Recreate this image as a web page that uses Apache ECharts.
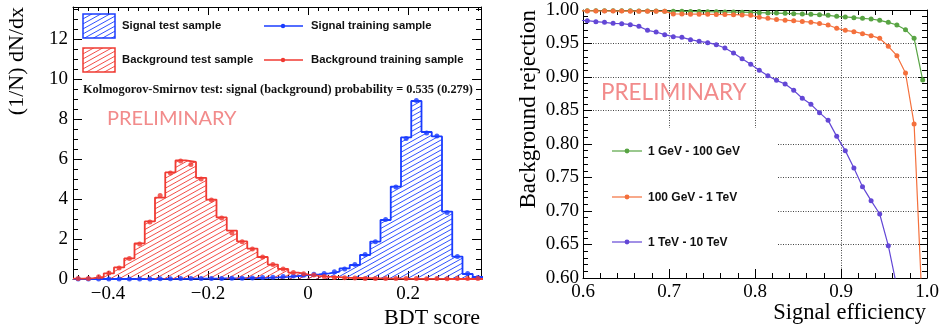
<!DOCTYPE html>
<html>
<head>
<meta charset="utf-8">
<script src="https://cdn.jsdelivr.net/npm/echarts@6/dist/echarts.min.js"></script>
<style>
  html, body { margin: 0; padding: 0; background: #fff; }
  #chart { width: 943px; height: 329px; }
</style>
</head>
<body>
<div id="chart"></div>
<script>
// ---- left panel: BDT score histograms (40 bins) ----
const xMin = -0.47, xMax = 0.346, binW = 0.0205;

const bgTest = [0.02, 0.04, 0.10, 0.28, 0.58, 1.03, 1.78, 2.88, 4.07, 5.33,
                5.93, 5.85, 5.06, 3.97, 3.08, 2.42, 1.88, 1.52, 1.10, 0.72,
                0.50, 0.32, 0.22, 0.16, 0.12, 0.09, 0.06, 0.05, 0.04, 0.03,
                0.02, 0.02, 0.01, 0.01, 0.01, 0.01, 0.00, 0.00, 0.00, 0.00];
const bgTrain = [0.02, 0.03, 0.11, 0.30, 0.55, 1.02, 1.75, 2.85, 4.17, 5.30,
                 5.90, 5.72, 5.00, 3.95, 3.05, 2.30, 1.86, 1.50, 1.10, 0.73,
                 0.50, 0.33, 0.26, 0.20, 0.12, 0.08, 0.06, 0.05, 0.03, 0.03,
                 0.02, 0.02, 0.02, 0.02, 0.01, 0.02, 0.01, 0.02, 0.02, 0.03];
const sigTest = [0.00, 0.00, 0.00, 0.00, 0.00, 0.00, 0.00, 0.00, 0.01, 0.01,
                 0.01, 0.02, 0.02, 0.02, 0.03, 0.03, 0.04, 0.05, 0.06, 0.08,
                 0.11, 0.15, 0.19, 0.23, 0.28, 0.37, 0.53, 0.70, 1.20, 1.87,
                 2.95, 4.62, 7.08, 8.90, 7.35, 7.13, 3.37, 1.12, 0.25, 0.10];
const sigTrain = [0.00, 0.00, 0.00, 0.00, 0.00, 0.00, 0.00, 0.00, 0.01, 0.01,
                  0.02, 0.02, 0.02, 0.03, 0.03, 0.04, 0.04, 0.05, 0.07, 0.09,
                  0.12, 0.15, 0.19, 0.24, 0.28, 0.36, 0.50, 0.72, 1.22, 1.86,
                  2.98, 4.60, 7.02, 8.93, 7.30, 7.15, 3.33, 1.13, 0.27, 0.08];

// ---- right panel: background rejection vs signal efficiency ----
const effPoints = [0.595, 0.605, 0.615, 0.625, 0.635, 0.645, 0.655, 0.665, 0.675, 0.685,
                   0.695, 0.705, 0.715, 0.725, 0.735, 0.745, 0.755, 0.765, 0.775, 0.785,
                   0.795, 0.805, 0.815, 0.825, 0.835, 0.845, 0.855, 0.865, 0.875, 0.885,
                   0.895, 0.905, 0.915, 0.925, 0.935, 0.945, 0.955, 0.965, 0.975, 0.985,
                   0.995];
const rejLow = [0.9990, 0.9990, 0.9989, 0.9989, 0.9988, 0.9988, 0.9987, 0.9986, 0.9985, 0.9984,
                0.9983, 0.9981, 0.9980, 0.9978, 0.9977, 0.9975, 0.9973, 0.9971, 0.9969, 0.9967,
                0.9964, 0.9960, 0.9956, 0.9954, 0.9950, 0.9945, 0.9940, 0.9935, 0.9930, 0.9920,
                0.9905, 0.9896, 0.9886, 0.9876, 0.9866, 0.9846, 0.9816, 0.9776, 0.9706, 0.9577,
                0.8955];
const rejMid = [0.9986, 0.9986, 0.9985, 0.9985, 0.9984, 0.9984, 0.9983, 0.9983, 0.9982, 0.9981,
                0.9980, 0.9942, 0.9940, 0.9938, 0.9937, 0.9935, 0.9934, 0.9932, 0.9930, 0.9927,
                0.9922, 0.9890, 0.9876, 0.9858, 0.9848, 0.9838, 0.9828, 0.9818, 0.9798, 0.9776,
                0.9728, 0.9697, 0.9677, 0.9647, 0.9617, 0.9577, 0.9458, 0.9318, 0.9060, 0.8300,
                0.5400];
const rejHigh = [0.9845, 0.9841, 0.9826, 0.9816, 0.9801, 0.9796, 0.9781, 0.9756, 0.9697, 0.9672,
                 0.9632, 0.9602, 0.9592, 0.9557, 0.9532, 0.9512, 0.9482, 0.9433, 0.9358, 0.9274,
                 0.9189, 0.9100, 0.9020, 0.8950, 0.8896, 0.8801, 0.8682, 0.8592, 0.8468, 0.8353,
                 0.8114, 0.7901, 0.7642, 0.7363, 0.7154, 0.6955, 0.6482, 0.5865];

const rangeNames = ['1 GeV - 100 GeV', '100 GeV - 1 TeV', '1 TeV - 10 TeV'];

const RED = '#f03a32', BLUE = '#1a3cff';
const GREEN = '#58a443', ORANGE = '#f4703c', PURPLE = '#6347d6';
const SERIF = '"Liberation Serif", "DejaVu Serif", serif';
const SANS = '"Liberation Sans", Arial, sans-serif';

function hatch(color) {
    // diagonal hatch tile, lines rising to the right
    const w = 9, h = 5;
    const c = document.createElement('canvas');
    c.width = w; c.height = h;
    const ctx = c.getContext('2d');
    ctx.strokeStyle = color;
    ctx.lineWidth = 0.9;
    for (let n = -1; n <= 1; n++) {
        ctx.beginPath();
        ctx.moveTo(0, h + n * h);
        ctx.lineTo(w, n * h);
        ctx.stroke();
    }
    return { image: c, repeat: 'repeat' };
}

function histEdges(vals) {
    const pts = vals.map((v, k) => [xMin + k * binW, v]);
    pts.push([xMin + vals.length * binW, vals[vals.length - 1]]);
    return pts;
}
function binCentres(vals) {
    return vals.map((v, k) => [xMin + (k + 0.5) * binW, v]);
}
function curve(vals) {
    return vals.map((v, i) => [effPoints[i], v]);
}

function onStep(v, step) {
    return Math.abs(v / step - Math.round(v / step)) < 1e-6;
}
function leftXLabel(v) {
    if (!onStep(v, 0.2)) return '';
    if (Math.abs(v) < 1e-9) return '0';
    return (v < 0 ? '\u2212' : '') + Math.abs(v).toFixed(1);
}

const frameLine = { show: true, onZero: false, lineStyle: { color: '#000', width: 1 } };
const labelStyle = { fontFamily: SERIF, fontSize: 19, color: '#000' };

function tickAxis(extra) {
    return Object.assign({
        type: 'value',
        axisLine: frameLine,
        axisTick: { show: true, inside: true, length: 9, lineStyle: { color: '#000' } },
        minorTick: { show: true, length: 5, lineStyle: { color: '#000' } },
        splitLine: { show: false },
        axisLabel: { show: false }
    }, extra);
}

const hatchRed = hatch(RED), hatchBlue = hatch(BLUE);

const chart = echarts.init(document.getElementById('chart'), null, { renderer: 'canvas' });

// the BDT axis starts off the 0.2 grid, so let the scale pick its nice step (0.2)
const bdtAxis = {
    gridIndex: 0, min: xMin, max: xMax, splitNumber: 4,
    axisTick: { show: true, inside: true, length: 8, lineStyle: { color: '#000' } },
    minorTick: { show: true, splitNumber: 10, length: 4, lineStyle: { color: '#000' } }
};

chart.setOption({
    animation: false,
    backgroundColor: '#fff',
    grid: [
        { left: 73, top: 7, width: 408, height: 272 },
        { left: 583, top: 10, width: 344, height: 268 },
        { left: 583, top: 10, width: 344, height: 268 }
    ],
    xAxis: [
        tickAxis(Object.assign({}, bdtAxis, { position: 'bottom',
            axisLabel: Object.assign({ show: true, margin: 6, formatter: leftXLabel }, labelStyle) })),
        tickAxis(Object.assign({}, bdtAxis, { position: 'top' })),
        { type: 'value', gridIndex: 1, min: 0.6, max: 1.0, interval: 0.1, z: 0,
            axisLine: { show: false }, axisTick: { show: false }, axisLabel: { show: false },
            splitLine: { show: true, lineStyle: { color: '#444', width: 1, type: [1, 1.5] } } },
        tickAxis({ gridIndex: 2, position: 'bottom', min: 0.6, max: 1.0, interval: 0.1, z: 5,
            minorTick: { show: true, splitNumber: 5, length: 5, lineStyle: { color: '#000' } },
            axisLabel: Object.assign({ show: true, margin: 5, formatter: v => v.toFixed(1) }, labelStyle) }),
        tickAxis({ gridIndex: 2, position: 'top', min: 0.6, max: 1.0, interval: 0.1, z: 5,
            minorTick: { show: true, splitNumber: 5, length: 5, lineStyle: { color: '#000' } } })
    ],
    yAxis: [
        tickAxis({ gridIndex: 0, position: 'left', min: 0, max: 13.6, interval: 2,
            minorTick: { show: true, splitNumber: 4, length: 5, lineStyle: { color: '#000' } },
            axisLabel: Object.assign({ show: true, margin: 5,
                formatter: v => onStep(v, 2) ? String(Math.round(v)) : '' }, labelStyle) }),
        tickAxis({ gridIndex: 0, position: 'right', min: 0, max: 13.6, interval: 2,
            minorTick: { show: true, splitNumber: 4, length: 5, lineStyle: { color: '#000' } } }),
        { type: 'value', gridIndex: 1, min: 0.6, max: 1.0, interval: 0.05, z: 0,
            axisLine: { show: false }, axisTick: { show: false }, axisLabel: { show: false },
            splitLine: { show: true, lineStyle: { color: '#444', width: 1, type: [1, 1.5] } } },
        tickAxis({ gridIndex: 2, position: 'left', min: 0.6, max: 1.0, interval: 0.05, z: 5,
            minorTick: { show: true, splitNumber: 5, length: 5, lineStyle: { color: '#000' } },
            axisLabel: Object.assign({ show: true, margin: 4, formatter: v => v.toFixed(2) }, labelStyle) }),
        tickAxis({ gridIndex: 2, position: 'right', min: 0.6, max: 1.0, interval: 0.05, z: 5,
            minorTick: { show: true, splitNumber: 5, length: 5, lineStyle: { color: '#000' } } })
    ],
    series: [
        { name: 'Signal test sample', type: 'line', step: 'end', xAxisIndex: 0, yAxisIndex: 0,
          data: histEdges(sigTest), showSymbol: false, symbol: 'none', z: 2,
          lineStyle: { color: BLUE, width: 1.8 }, areaStyle: { color: hatchBlue, opacity: 1 } },
        { name: 'Background test sample', type: 'line', step: 'end', xAxisIndex: 0, yAxisIndex: 0,
          data: histEdges(bgTest), showSymbol: false, symbol: 'none', z: 3,
          lineStyle: { color: RED, width: 1.8 }, areaStyle: { color: hatchRed, opacity: 1 } },
        { name: 'Signal training sample', type: 'scatter', xAxisIndex: 0, yAxisIndex: 0,
          data: binCentres(sigTrain), symbolSize: 5, clip: false, z: 4,
          itemStyle: { color: BLUE } },
        { name: 'Background training sample', type: 'scatter', xAxisIndex: 0, yAxisIndex: 0,
          data: binCentres(bgTrain), symbolSize: 5, clip: false, z: 4,
          itemStyle: { color: RED } },
        { name: rangeNames[0], type: 'line', xAxisIndex: 3, yAxisIndex: 3, data: curve(rejLow),
          symbol: 'circle', symbolSize: 5, z: 6, clip: true,
          lineStyle: { color: GREEN, width: 1.2 }, itemStyle: { color: GREEN } },
        { name: rangeNames[1], type: 'line', xAxisIndex: 3, yAxisIndex: 3, data: curve(rejMid),
          symbol: 'circle', symbolSize: 5, z: 7, clip: true,
          lineStyle: { color: ORANGE, width: 1.2 }, itemStyle: { color: ORANGE } },
        { name: rangeNames[2], type: 'line', xAxisIndex: 3, yAxisIndex: 3, data: curve(rejHigh),
          symbol: 'circle', symbolSize: 5, z: 8, clip: true,
          lineStyle: { color: PURPLE, width: 1.2 }, itemStyle: { color: PURPLE } }
    ],
    graphic: [
        // left panel legend
        { type: 'rect', z: 10, shape: { x: 83, y: 14, width: 32, height: 24 },
          style: { fill: hatchBlue, stroke: BLUE, lineWidth: 1.5 } },
        { type: 'rect', z: 10, shape: { x: 83, y: 48, width: 32, height: 24 },
          style: { fill: hatchRed, stroke: RED, lineWidth: 1.5 } },
        { type: 'text', z: 10, x: 122, y: 26, style: { text: 'Signal test sample',
          font: 'bold 11.3px ' + SANS, fill: '#111', textVerticalAlign: 'middle' } },
        { type: 'text', z: 10, x: 122, y: 60, style: { text: 'Background test sample',
          font: 'bold 11.3px ' + SANS, fill: '#111', textVerticalAlign: 'middle' } },
        { type: 'line', z: 10, shape: { x1: 264, y1: 26, x2: 303, y2: 26 }, style: { stroke: BLUE, lineWidth: 1.5 } },
        { type: 'circle', z: 10, shape: { cx: 283, cy: 26, r: 2.2 }, style: { fill: BLUE } },
        { type: 'line', z: 10, shape: { x1: 264, y1: 60, x2: 303, y2: 60 }, style: { stroke: RED, lineWidth: 1.5 } },
        { type: 'circle', z: 10, shape: { cx: 283, cy: 60, r: 2.2 }, style: { fill: RED } },
        { type: 'text', z: 10, x: 311, y: 26, style: { text: 'Signal training sample',
          font: 'bold 11.3px ' + SANS, fill: '#111', textVerticalAlign: 'middle' } },
        { type: 'text', z: 10, x: 311, y: 60, style: { text: 'Background training sample',
          font: 'bold 11.3px ' + SANS, fill: '#111', textVerticalAlign: 'middle' } },
        { type: 'text', z: 10, x: 83, y: 90, style: {
          text: 'Kolmogorov-Smirnov test: signal (background) probability = 0.535 (0.279)',
          font: 'bold 12.3px ' + SERIF, fill: '#111', textVerticalAlign: 'middle' } },
        { type: 'text', z: 10, x: 107, y: 119, style: { text: 'PRELIMINARY',
          font: '20px Lato, "Open Sans", sans-serif', fill: '#f28b8b', textVerticalAlign: 'middle' } },
        // left axis titles
        { type: 'text', z: 10, x: 17, y: 7, rotation: Math.PI / 2, style: { text: '(1/N) dN/dx',
          font: '22px ' + SERIF, fill: '#000', textAlign: 'right', textVerticalAlign: 'middle' } },
        { type: 'text', z: 10, x: 480, y: 318, style: { text: 'BDT score',
          font: '22px ' + SERIF, fill: '#000', textAlign: 'right', textVerticalAlign: 'middle' } },
        // right panel: legend box hides the grid
        { type: 'rect', z: 1, shape: { x: 584, y: 128, width: 193, height: 149 }, style: { fill: '#fff' } },
        { type: 'text', z: 10, x: 601, y: 93, style: { text: 'PRELIMINARY',
          font: '22.5px Lato, "Open Sans", sans-serif', fill: '#f28b8b', textVerticalAlign: 'middle' } },
        { type: 'line', z: 10, shape: { x1: 612, y1: 151, x2: 642, y2: 151 }, style: { stroke: GREEN, lineWidth: 1.2 } },
        { type: 'circle', z: 10, shape: { cx: 627, cy: 151, r: 2.4 }, style: { fill: GREEN } },
        { type: 'text', z: 10, x: 648, y: 152, style: { text: rangeNames[0],
          font: 'bold 12px ' + SANS, fill: '#111', textVerticalAlign: 'middle' } },
        { type: 'line', z: 10, shape: { x1: 612, y1: 197, x2: 642, y2: 197 }, style: { stroke: ORANGE, lineWidth: 1.2 } },
        { type: 'circle', z: 10, shape: { cx: 627, cy: 197, r: 2.4 }, style: { fill: ORANGE } },
        { type: 'text', z: 10, x: 648, y: 198, style: { text: rangeNames[1],
          font: 'bold 12px ' + SANS, fill: '#111', textVerticalAlign: 'middle' } },
        { type: 'line', z: 10, shape: { x1: 612, y1: 242, x2: 642, y2: 242 }, style: { stroke: PURPLE, lineWidth: 1.2 } },
        { type: 'circle', z: 10, shape: { cx: 627, cy: 242, r: 2.4 }, style: { fill: PURPLE } },
        { type: 'text', z: 10, x: 648, y: 243, style: { text: rangeNames[2],
          font: 'bold 12px ' + SANS, fill: '#111', textVerticalAlign: 'middle' } },
        // right axis titles
        { type: 'text', z: 10, x: 529, y: 10, rotation: Math.PI / 2, style: { text: 'Background rejection',
          font: '23px ' + SERIF, fill: '#000', textAlign: 'right', textVerticalAlign: 'middle' } },
        { type: 'text', z: 10, x: 926, y: 313, style: { text: 'Signal efficiency',
          font: '22.5px ' + SERIF, fill: '#000', textAlign: 'right', textVerticalAlign: 'middle' } }
    ]
});
</script>
</body>
</html>
